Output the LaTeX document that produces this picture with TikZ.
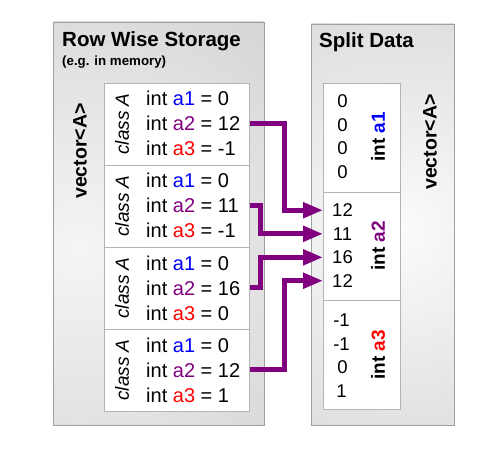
\documentclass[tikz,border=0pt]{standalone}
\usepackage{fontspec}
\setmainfont{Liberation Sans}
\usetikzlibrary{arrows.meta}
\definecolor{apurple}{HTML}{800080}
\definecolor{ablue}{HTML}{0000FF}
\definecolor{ared}{HTML}{FF0000}
\definecolor{outerline}{HTML}{A0A0A0}
\definecolor{innerline}{HTML}{B4B4B4}
\newcommand{\aone}{\textcolor{ablue}{a1}}
\newcommand{\atwo}{\textcolor{apurple}{a2}}
\newcommand{\athree}{\textcolor{ared}{a3}}
\begin{document}
\begin{tikzpicture}[x=1pt,y=-1pt,
  outerbox/.style={draw=outerline, line width=1pt, minimum width=#1, anchor=north west, inner sep=0pt},
  rowbox/.style={draw=innerline, fill=white, line width=1pt, minimum width=145pt, minimum height=82pt, anchor=north west, inner sep=0pt},
  colbox/.style={draw=innerline, fill=white, line width=1pt, minimum width=77pt, minimum height=108.7pt, anchor=north west, inner sep=0pt},
  titletext/.style={font=\bfseries\fontsize{20.5}{24}\selectfont, anchor=base west, inner sep=0pt},
  subtext/.style={font=\bfseries\fontsize{13.3}{16}\selectfont, anchor=base west, inner sep=0pt},
  vectext/.style={font=\bfseries\fontsize{19.5}{23}\selectfont, rotate=90, inner sep=0pt},
  classtext/.style={font=\itshape\fontsize{19}{23}\selectfont, rotate=90, inner sep=0pt},
  fieldtext/.style={font=\fontsize{20}{24}\selectfont, anchor=base west, inner sep=0pt},
  numtext/.style={font=\fontsize{18.5}{22}\selectfont, anchor=base, inner sep=0pt},
  coltext/.style={font=\bfseries\fontsize{19}{23}\selectfont, rotate=90, inner sep=0pt},
  arr/.style={draw=apurple, line width=5pt, -{Triangle[length=20pt,width=15pt]}}
]
\useasboundingbox (0,0) rectangle (498,457);

% outer boxes with shading
\begin{scope}
  \clip (53,22) rectangle (264,425);
  \shade[inner color=gray!8, outer color=gray!48] (80,250) circle (480);
\end{scope}
\node[outerbox=211pt, minimum height=403pt] (L) at (53,22) {};
\begin{scope}
  \clip (311,24) rectangle (454,425);
  \shade[inner color=gray!3, outer color=gray!46] (400,230) circle (420);
\end{scope}
\node[outerbox=143pt, minimum height=401pt] (R) at (311,24) {};

% titles
\node[titletext] (ltitle) at (62,47) {Row Wise Storage};
\node[subtext] (lsub) at (62,66) {(e.g. in memory)};
\node[titletext] (rtitle) at (319,48) {Split Data};
\node[vectext] (lvec) at (80,151) {vector<A>};
\node[vectext] (rvec) at (430,142) {vector<A>};

% row boxes
\node[rowbox] (r1) at (104,83) {};
\node[rowbox] (r2) at (104,165) {};
\node[rowbox] (r3) at (104,247) {};
\node[rowbox] (r4) at (104,329) {};

\node[classtext] (c1lab) at (122,124) {class A};
\node[classtext] (c2lab) at (122,206) {class A};
\node[classtext] (c3lab) at (122,288) {class A};
\node[classtext] (c4lab) at (122,370) {class A};

\node[fieldtext] (f11) at (146,106) {int \aone{} = 0};
\node[fieldtext] (t1)  at (146,131) {int \atwo{} = 12};
\node[fieldtext] (f13) at (146,156) {int \athree{} = -1};
\node[fieldtext] (f21) at (146,188) {int \aone{} = 0};
\node[fieldtext] (t2)  at (146,213) {int \atwo{} = 11};
\node[fieldtext] (f23) at (146,238) {int \athree{} = -1};
\node[fieldtext] (f31) at (146,270) {int \aone{} = 0};
\node[fieldtext] (t3)  at (146,295) {int \atwo{} = 16};
\node[fieldtext] (f33) at (146,320) {int \athree{} = 0};
\node[fieldtext] (f41) at (146,352) {int \aone{} = 0};
\node[fieldtext] (t4)  at (146,377) {int \atwo{} = 12};
\node[fieldtext] (f43) at (146,402) {int \athree{} = 1};

% column boxes
\node[colbox] (k1) at (323,83) {};
\node[colbox] (k2) at (323,191.7) {};
\node[colbox] (k3) at (323,300.4) {};

\node[numtext] (n11) at (342.5,108) {0};
\node[numtext] (n12) at (342.5,131.5) {0};
\node[numtext] (n13) at (342.5,155) {0};
\node[numtext] (n14) at (342.5,178.5) {0};
\node[numtext] (n21) at (342.5,216.7) {12};
\node[numtext] (n22) at (342.5,240.2) {11};
\node[numtext] (n23) at (342.5,263.7) {16};
\node[numtext] (n24) at (342.5,287.2) {12};
\node[numtext] (n31) at (341.5,326.5) {-1};
\node[numtext] (n32) at (341.5,350) {-1};
\node[numtext] (n33) at (342.5,373.5) {0};
\node[numtext] (n34) at (341.5,397) {1};

\node[coltext] (l1) at (378,137) {int \aone};
\node[coltext] (l2) at (378,246) {int \atwo};
\node[coltext] (l3) at (378,355) {int \athree};

% connectors
\coordinate (xa) at (284.5,0);
\coordinate (xb) at (260,0);
\draw[arr] (r1.east |- t1) -| (xa |- n21) -- (k2.west |- n21);
\draw[arr] (r2.east |- t2) -| (xb |- n22) -- (k2.west |- n22);
\draw[arr] (r3.east |- t3) -| (xb |- n23) -- (k2.west |- n23);
\draw[arr] (r4.east |- t4) -| (xa |- n24) -- (k2.west |- n24);
\end{tikzpicture}
\end{document}
